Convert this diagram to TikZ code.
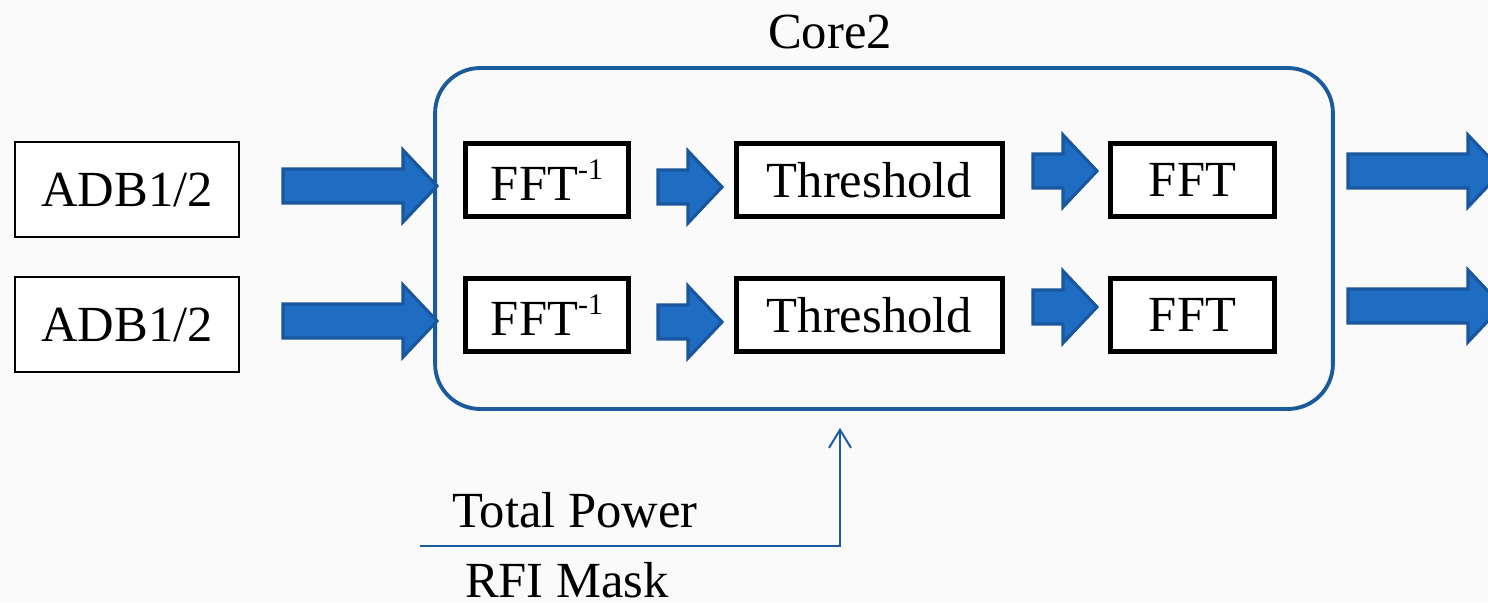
\documentclass[tikz,border=0pt]{standalone}
\usepackage{fontspec}
\setmainfont{Liberation Serif}
\usepackage{tikz}
\usetikzlibrary{arrows.meta,positioning,calc}
\definecolor{coreblue}{HTML}{1B5A9B}
\definecolor{arrowfill}{HTML}{1F6DC2}
\definecolor{arrowedge}{HTML}{19569E}
\definecolor{paper}{HTML}{FAFAFA}

% block arrow: x start, x tip, y centre (pixel units)
\newcommand{\blockarrow}[3]{%
  \filldraw[fatarr] (#1,#3-17) -- (#2-34,#3-17) -- (#2-34,#3-36) -- (#2,#3)
    -- (#2-34,#3+36) -- (#2-34,#3+17) -- (#1,#3+17) -- cycle;}
\newcommand{\invsup}{\raisebox{0.42em}{\fontsize{17}{17}\selectfont -1}}

\begin{document}
\begin{tikzpicture}[
  x=0.02cm, y=-0.02cm,
  font=\fontsize{28.8}{34}\selectfont,
  adb/.style={draw=black,line width=1.1pt,fill=white,minimum width=4.48cm,minimum height=1.9cm,inner sep=0pt},
  stage/.style={draw=black,line width=2.8pt,fill=white,minimum height=1.46cm,inner sep=0pt},
  core/.style={draw=coreblue,line width=2.2pt,rounded corners=0.9cm,minimum width=17.96cm,minimum height=6.82cm},
  fatarr/.style={fill=arrowfill,draw=arrowedge,line width=1.8pt,line join=miter},
  feed/.style={draw=coreblue,line width=1.1pt,-{Straight Barb[length=3.6mm,width=4.4mm]}}
]
\useasboundingbox[fill=paper] (0,0) rectangle (1488,602);

\node[core] (core) at (884,238.5) {};
\node (corelbl) at (830,32) {Core2};

\node[adb] (adbA) at (127,189.5) {ADB1/2};
\node[adb] (adbB) at (127,324.5) {ADB1/2};

\node[stage,minimum width=3.26cm] (ifftA) at (547,180) {FFT\invsup};
\node[stage,minimum width=5.32cm] (thrA) at (869.5,180) {Threshold};
\node[stage,minimum width=3.28cm] (fftA) at (1192.5,180) {FFT};
\node[stage,minimum width=3.26cm] (ifftB) at (547,315) {FFT\invsup};
\node[stage,minimum width=5.32cm] (thrB) at (869.5,315) {Threshold};
\node[stage,minimum width=3.28cm] (fftB) at (1192.5,315) {FFT};

% inputs, inner steps, outputs
\blockarrow{283}{437}{186}
\blockarrow{283}{437}{321}
\blockarrow{658}{722}{187}
\blockarrow{658}{722}{322}
\blockarrow{1033}{1097}{171}
\blockarrow{1033}{1097}{307}
\blockarrow{1348}{1502}{171}
\blockarrow{1348}{1502}{306}

\node[anchor=base] (tpow) at (575,527) {Total Power};
\node[anchor=base,inner sep=0pt] (rfi) at (567,597) {RFI Mask};
\coordinate (feedin) at (420,546);
\coordinate (feedup) at (840,428);
\draw[feed] (feedin) -| (feedup);
\end{tikzpicture}
\end{document}
